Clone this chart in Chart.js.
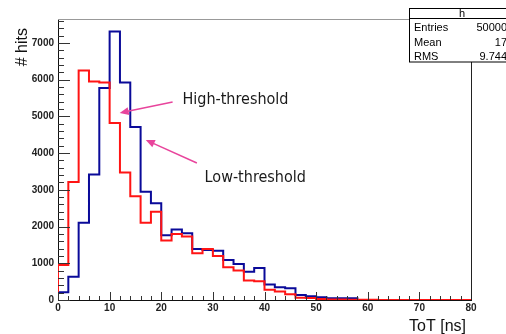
<!DOCTYPE html>
<html>
<head>
<meta charset="utf-8">
<script src="https://cdn.jsdelivr.net/npm/chart.js@4"></script>
<style>
  html, body { margin: 0; padding: 0; background: #fff; }
  #c { display: block; }
</style>
</head>
<body>
<canvas id="c" width="506" height="334"></canvas>
<script>
// bin edges (ToT in ns), 2 ns bins
var binEdges = [0, 2, 4, 6, 8, 10, 12, 14, 16, 18, 20, 22, 24, 26, 28, 30, 32, 34, 36, 38,
                40, 42, 44, 46, 48, 50, 52, 54, 56, 58, 60, 62, 64, 66, 68, 70, 72, 74, 76, 78, 80];
// counts per bin
var highThreshold = [950, 3210, 6250, 5950, 5920, 4820, 3470, 2825, 2100, 2400,
                     1620, 1800, 1730, 1275, 1390, 1200, 890, 800, 530, 510,
                     280, 230, 155, 64, 55, 27, 15, 12, 8, 5,
                     4, 3, 2, 1, 1, 0, 0, 0, 0, 0];
var lowThreshold  = [210, 630, 2100, 3420, 5770, 7310, 5920, 4710, 2945, 2634,
                     1760, 1920, 1820, 1390, 1360, 1340, 1090, 980, 772, 872,
                     420, 350, 320, 136, 100, 73, 45, 45, 45, 0,
                     0, 0, 0, 0, 0, 0, 0, 0, 0, 0];
var xTickLabels = [0, 10, 20, 30, 40, 50, 60, 70, 80];
var yTickLabels = [0, 1000, 2000, 3000, 4000, 5000, 6000, 7000];
var statNames  = ["Entries", "Mean", "RMS"];
var statValues = ["50000", "17", "9.744"];

function histPoints(vals) {
  var pts = [{x: binEdges[0], y: 0}];
  for (var i = 0; i < vals.length; i++) pts.push({x: binEdges[i], y: vals[i]});
  pts.push({x: binEdges[binEdges.length - 1], y: vals[vals.length - 1]});
  return pts;
}

var extras = {
  id: 'extras',
  afterDraw: function(chart) {
    var ctx = chart.ctx, a = chart.chartArea;
    var xs = chart.scales.x, ys = chart.scales.y;
    ctx.save();
    // minor + major ticks
    ctx.lineWidth = 1;
    ctx.strokeStyle = '#333';
    for (var v = 0; v <= 7600; v += 200) {
      var py = Math.round(ys.getPixelForValue(v)) + 0.5;
      var len = (v % 1000 === 0) ? 12 : 6;
      ctx.beginPath(); ctx.moveTo(a.left, py); ctx.lineTo(a.left + len, py); ctx.stroke();
    }
    for (var t = 0; t <= 80; t += 2) {
      var px = Math.round(xs.getPixelForValue(t)) + 0.5;
      var l2 = (t % 10 === 0) ? 8 : 4;
      ctx.beginPath(); ctx.moveTo(px, a.bottom); ctx.lineTo(px, a.bottom - l2); ctx.stroke();
    }
    // frame
    ctx.strokeStyle = '#999';
    ctx.beginPath(); ctx.moveTo(a.left, a.top + 0.5); ctx.lineTo(410, a.top + 0.5); ctx.stroke();
    ctx.strokeStyle = '#222';
    ctx.beginPath(); ctx.moveTo(Math.round(a.right) + 0.5, 62); ctx.lineTo(Math.round(a.right) + 0.5, a.bottom); ctx.stroke();

    // axis titles
    ctx.fillStyle = '#111';
    ctx.font = '16px "Liberation Sans", Arial, sans-serif';
    ctx.textAlign = 'right'; ctx.textBaseline = 'alphabetic';
    ctx.fillText('ToT [ns]', 466, 331);
    ctx.save();
    ctx.translate(27, 28);
    ctx.rotate(-Math.PI / 2);
    ctx.fillText('# hits', 0, 0);
    ctx.restore();

    // annotations
    ctx.fillStyle = '#1a1a1a';
    ctx.font = '16px "DejaVu Sans Condensed", "DejaVu Sans", sans-serif';
    ctx.textAlign = 'left'; ctx.textBaseline = 'middle';
    ctx.fillText('High-threshold', xs.getPixelForValue(24.1), ys.getPixelForValue(5445));
    ctx.fillText('Low-threshold', xs.getPixelForValue(28.4), ys.getPixelForValue(3320));
    function arrow(x0, y0, x1, y1) {
      var p0x = xs.getPixelForValue(x0), p0y = ys.getPixelForValue(y0);
      var p1x = xs.getPixelForValue(x1), p1y = ys.getPixelForValue(y1);
      var ang = Math.atan2(p1y - p0y, p1x - p0x);
      ctx.strokeStyle = '#e8449c'; ctx.fillStyle = '#e8449c'; ctx.lineWidth = 1.5;
      ctx.beginPath(); ctx.moveTo(p0x, p0y);
      ctx.lineTo(p1x - 7 * Math.cos(ang), p1y - 7 * Math.sin(ang)); ctx.stroke();
      ctx.beginPath();
      ctx.moveTo(p1x, p1y);
      ctx.lineTo(p1x - 9 * Math.cos(ang) + 4 * Math.sin(ang), p1y - 9 * Math.sin(ang) - 4 * Math.cos(ang));
      ctx.lineTo(p1x - 9 * Math.cos(ang) - 4 * Math.sin(ang), p1y - 9 * Math.sin(ang) + 4 * Math.cos(ang));
      ctx.closePath(); ctx.fill();
    }
    arrow(22.2, 5390, 11.95, 5090);
    arrow(26.9, 3730, 17.0, 4356);

    // stats box
    ctx.fillStyle = '#fff';
    ctx.fillRect(409.5, 8.5, 110, 53.5);
    ctx.strokeStyle = '#000'; ctx.lineWidth = 1;
    ctx.strokeRect(409.5, 8.5, 110, 53.5);
    ctx.beginPath(); ctx.moveTo(409.5, 18.5); ctx.lineTo(520, 18.5); ctx.stroke();
    ctx.fillStyle = '#000';
    ctx.font = '11px "Liberation Sans", Arial, sans-serif';
    ctx.textAlign = 'center'; ctx.textBaseline = 'middle';
    ctx.fillText('h', 462, 13.5);
    var rowY = [28, 42.5, 56.5];
    for (var i = 0; i < statNames.length; i++) {
      ctx.textAlign = 'left';
      ctx.fillText(statNames[i], 414, rowY[i]);
      ctx.textAlign = 'right';
      ctx.fillText(statValues[i], 507, rowY[i]);
    }
    ctx.restore();
  }
};

var tickFont = { family: '"Liberation Sans", Arial, sans-serif', size: 10, weight: 'bold' };
function plainLabel(value) { return String(value); }

new Chart(document.getElementById('c'), {
  type: 'line',
  data: {
    datasets: [
      { label: 'High-threshold', data: histPoints(highThreshold), borderColor: '#ff1414',
        borderWidth: 2, stepped: 'before', pointRadius: 0, fill: false },
      { label: 'Low-threshold', data: histPoints(lowThreshold), borderColor: '#0a0a99',
        borderWidth: 2, stepped: 'before', pointRadius: 0, fill: false }
    ]
  },
  options: {
    responsive: false,
    animation: false,
    devicePixelRatio: 1,
    layout: { padding: { left: 0, top: 19, right: 35, bottom: 0 } },
    plugins: { legend: { display: false }, tooltip: { enabled: false } },
    scales: {
      x: {
        type: 'linear', min: 0, max: 80,
        afterFit: function(s) { s.height = 34; },
        afterBuildTicks: function(s) { s.ticks = xTickLabels.map(function(v) { return {value: v}; }); },
        grid: { display: false, drawTicks: false },
        border: { display: true, color: '#111', width: 1 },
        ticks: { font: tickFont, color: '#222', padding: 2, maxRotation: 0, autoSkip: false, callback: plainLabel }
      },
      y: {
        type: 'linear', min: 0, max: 7650,
        afterFit: function(s) { s.width = 58; },
        afterBuildTicks: function(s) { s.ticks = yTickLabels.map(function(v) { return {value: v}; }); },
        grid: { display: false, drawTicks: false },
        border: { display: true, color: '#111', width: 1 },
        ticks: { font: tickFont, color: '#222', padding: 4, autoSkip: false, callback: plainLabel }
      }
    }
  },
  plugins: [extras]
});
</script>
</body>
</html>
